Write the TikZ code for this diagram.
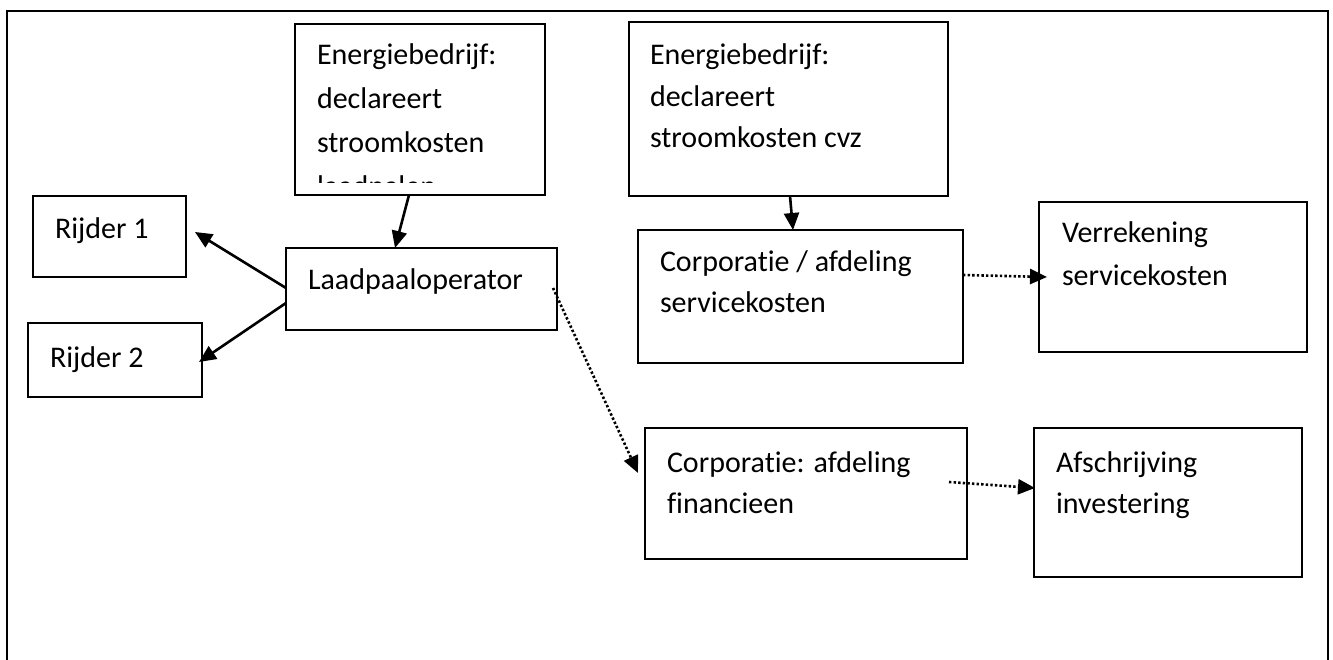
\documentclass[tikz,border=0pt]{standalone}
\usepackage{fontspec}
\setmainfont{Carlito}[Ligatures=NoCommon]
\usetikzlibrary{arrows.meta}
\newcommand\txtlines[2]{\vtop{\baselineskip=#1pt\relax #2}}
\begin{document}
\begin{tikzpicture}[x=1pt,y=-1pt,
  box/.style={draw, line width=2.1pt, rectangle, inner sep=0pt, outer sep=0pt, anchor=north west},
  lbl/.style={anchor=base west, inner sep=0pt, outer sep=0pt, font=\fontsize{30pt}{42pt}\selectfont},
  solidarrow/.style={line width=2.6pt, -{Triangle[length=17pt,width=15pt]}},
  dotarrow/.style={line width=2.6pt, dash pattern=on 2.4pt off 2.2pt, -{Triangle[length=17pt,width=15pt]}}]
\useasboundingbox (0,0) rectangle (1333,660);
% outer frame (open at the bottom)
\draw[line width=2.1pt] (7,660) -- (7,11) -- (1328,11) -- (1328,660);

% boxes
\node[box, minimum width=250pt, minimum height=171pt] (e1) at (295,24) {};
\node[box, minimum width=319pt, minimum height=174pt] (e2) at (629,22) {};
\node[box, minimum width=153pt, minimum height=81pt] (r1) at (33,196) {};
\node[box, minimum width=174pt, minimum height=74pt] (r2) at (28,323) {};
\node[box, minimum width=271pt, minimum height=82pt] (lp) at (286,248) {};
\node[box, minimum width=325pt, minimum height=133pt] (cs) at (638,230) {};
\node[box, minimum width=268pt, minimum height=150pt] (vr) at (1039,202) {};
\node[box, minimum width=322pt, minimum height=131pt] (fin) at (645,428) {};
\node[box, minimum width=268pt, minimum height=149pt] (af) at (1034,428) {};

% texts
\begin{scope}
\clip (295,24) rectangle (545,183);
\node[lbl] (e1t) at (317,65) {\txtlines{44}{\hbox{Energiebedrijf:}\hbox{declareert}\hbox{stroomkosten}\hbox{laadpalen}}};
\end{scope}
\node[lbl] (e2t) at (650,65) {\txtlines{41.5}{\hbox{Energiebedrijf:}\hbox{declareert}\hbox{stroomkosten cvz}}};
\node[lbl] (r1t) at (55,239) {Rijder 1};
\node[lbl] (r2t) at (50,367) {Rijder 2};
\node[lbl] (lpt) at (308,290) {Laadpaaloperator};
\node[lbl] (cst) at (660,272) {\txtlines{41}{\hbox{Corporat\kern0pt ie / afdeling}\hbox{servicekosten}}};
\node[lbl] (vrt) at (1062,243) {\txtlines{43}{\hbox{Verrekening}\hbox{servicekosten}}};
\node[lbl] (fint) at (667,472) {\txtlines{41}{\hbox{Corporat\kern0pt ie: afdeling}\hbox{f\kern0pt inancieen}}};
\node[lbl] (aft) at (1056,472) {\txtlines{41}{\hbox{Afschrijving}\hbox{investering}}};

% connectors
\draw[solidarrow] ([xshift=-11pt]e1.south) -- ([xshift=-26.5pt]lp.north);
\draw[solidarrow] ([xshift=1.5pt]e2.south) -- ([xshift=-7.5pt]cs.north);
\draw[solidarrow] ([yshift=1pt]lp.west) -- ([xshift=9pt,yshift=4.5pt]r1.east);
\draw[solidarrow] ([yshift=-14pt]lp.west) -- ([xshift=-3pt,yshift=-2pt]r2.east);
\draw[dotarrow] ([xshift=-4pt,yshift=1pt]lp.east) -- ([xshift=-7pt,yshift=20.5pt]fin.west);
\draw[dotarrow] ([yshift=21.5pt]cs.east) -- ([xshift=8pt]vr.west);
\draw[dotarrow] ([xshift=-18pt,yshift=11.5pt]fin.east) -- ([xshift=1pt,yshift=14.5pt]af.west);
\end{tikzpicture}
\end{document}
